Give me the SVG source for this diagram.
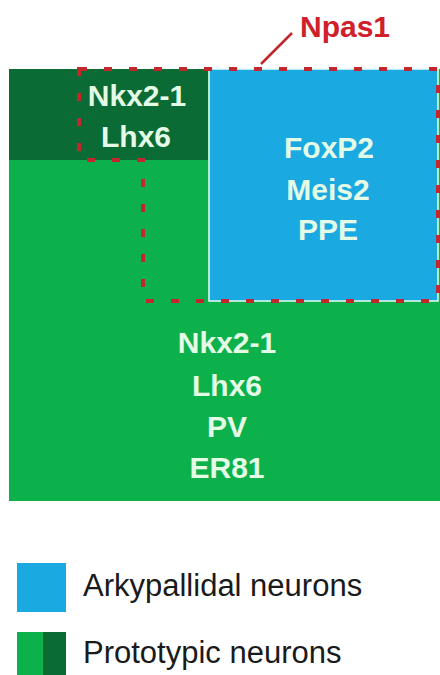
<svg xmlns="http://www.w3.org/2000/svg" width="440" height="675" viewBox="0 0 440 675">
<style>
.lbl{font-family:"Liberation Sans",Arial,sans-serif;font-weight:bold;font-size:30px;fill:#e4fbe6;text-anchor:middle}
.leg{font-family:"Liberation Sans",Arial,sans-serif;font-size:31px;fill:#1a1a1a}
.dash{fill:none;stroke:#c1272d;stroke-width:4;stroke-dasharray:8 17}
</style>
<rect width="440" height="675" fill="#ffffff"/>
<g id="prototypic-main">
<rect x="9" y="69" width="433" height="432" fill="#0db14b"/>
<text class="lbl" x="227" y="353">Nkx2-1</text>
<text class="lbl" x="227" y="396">Lhx6</text>
<text class="lbl" x="227" y="437">PV</text>
<text class="lbl" x="227" y="478">ER81</text>
</g>
<g id="prototypic-dark">
<rect x="9" y="69" width="199" height="91" fill="#0a6b34"/>
<text class="lbl" x="137" y="106">Nkx2-1</text>
<text class="lbl" x="136" y="147">Lhx6</text>
</g>
<g id="arkypallidal">
<rect x="209" y="69" width="229" height="232" fill="#1aa9e1" stroke="#e8fbf6" stroke-width="1.5"/>
<text class="lbl" x="329" y="158">FoxP2</text>
<text class="lbl" x="328" y="200">Meis2</text>
<text class="lbl" x="328" y="240">PPE</text>
</g>
<g id="npas1">
<path class="dash" d="M79 69 H438 V301 H143 V160 H79 Z"/>
<text x="300" y="37" style="font-family:'Liberation Sans',Arial,sans-serif;font-weight:bold;font-size:30px;fill:#d0202a">Npas1</text>
</g>
<g id="connectors">
<line x1="261" y1="64" x2="292" y2="33" stroke="#c1272d" stroke-width="2.5"/>
</g>
<g id="legend">
<rect x="17" y="563" width="49" height="49" fill="#1aa9e1"/>
<text class="leg" x="83" y="596">Arkypallidal neurons</text>
<rect x="17" y="632" width="26" height="50" fill="#0db14b"/>
<rect x="43" y="632" width="23" height="50" fill="#0a6b34"/>
<text class="leg" x="83" y="663">Prototypic neurons</text>
</g>
</svg>
